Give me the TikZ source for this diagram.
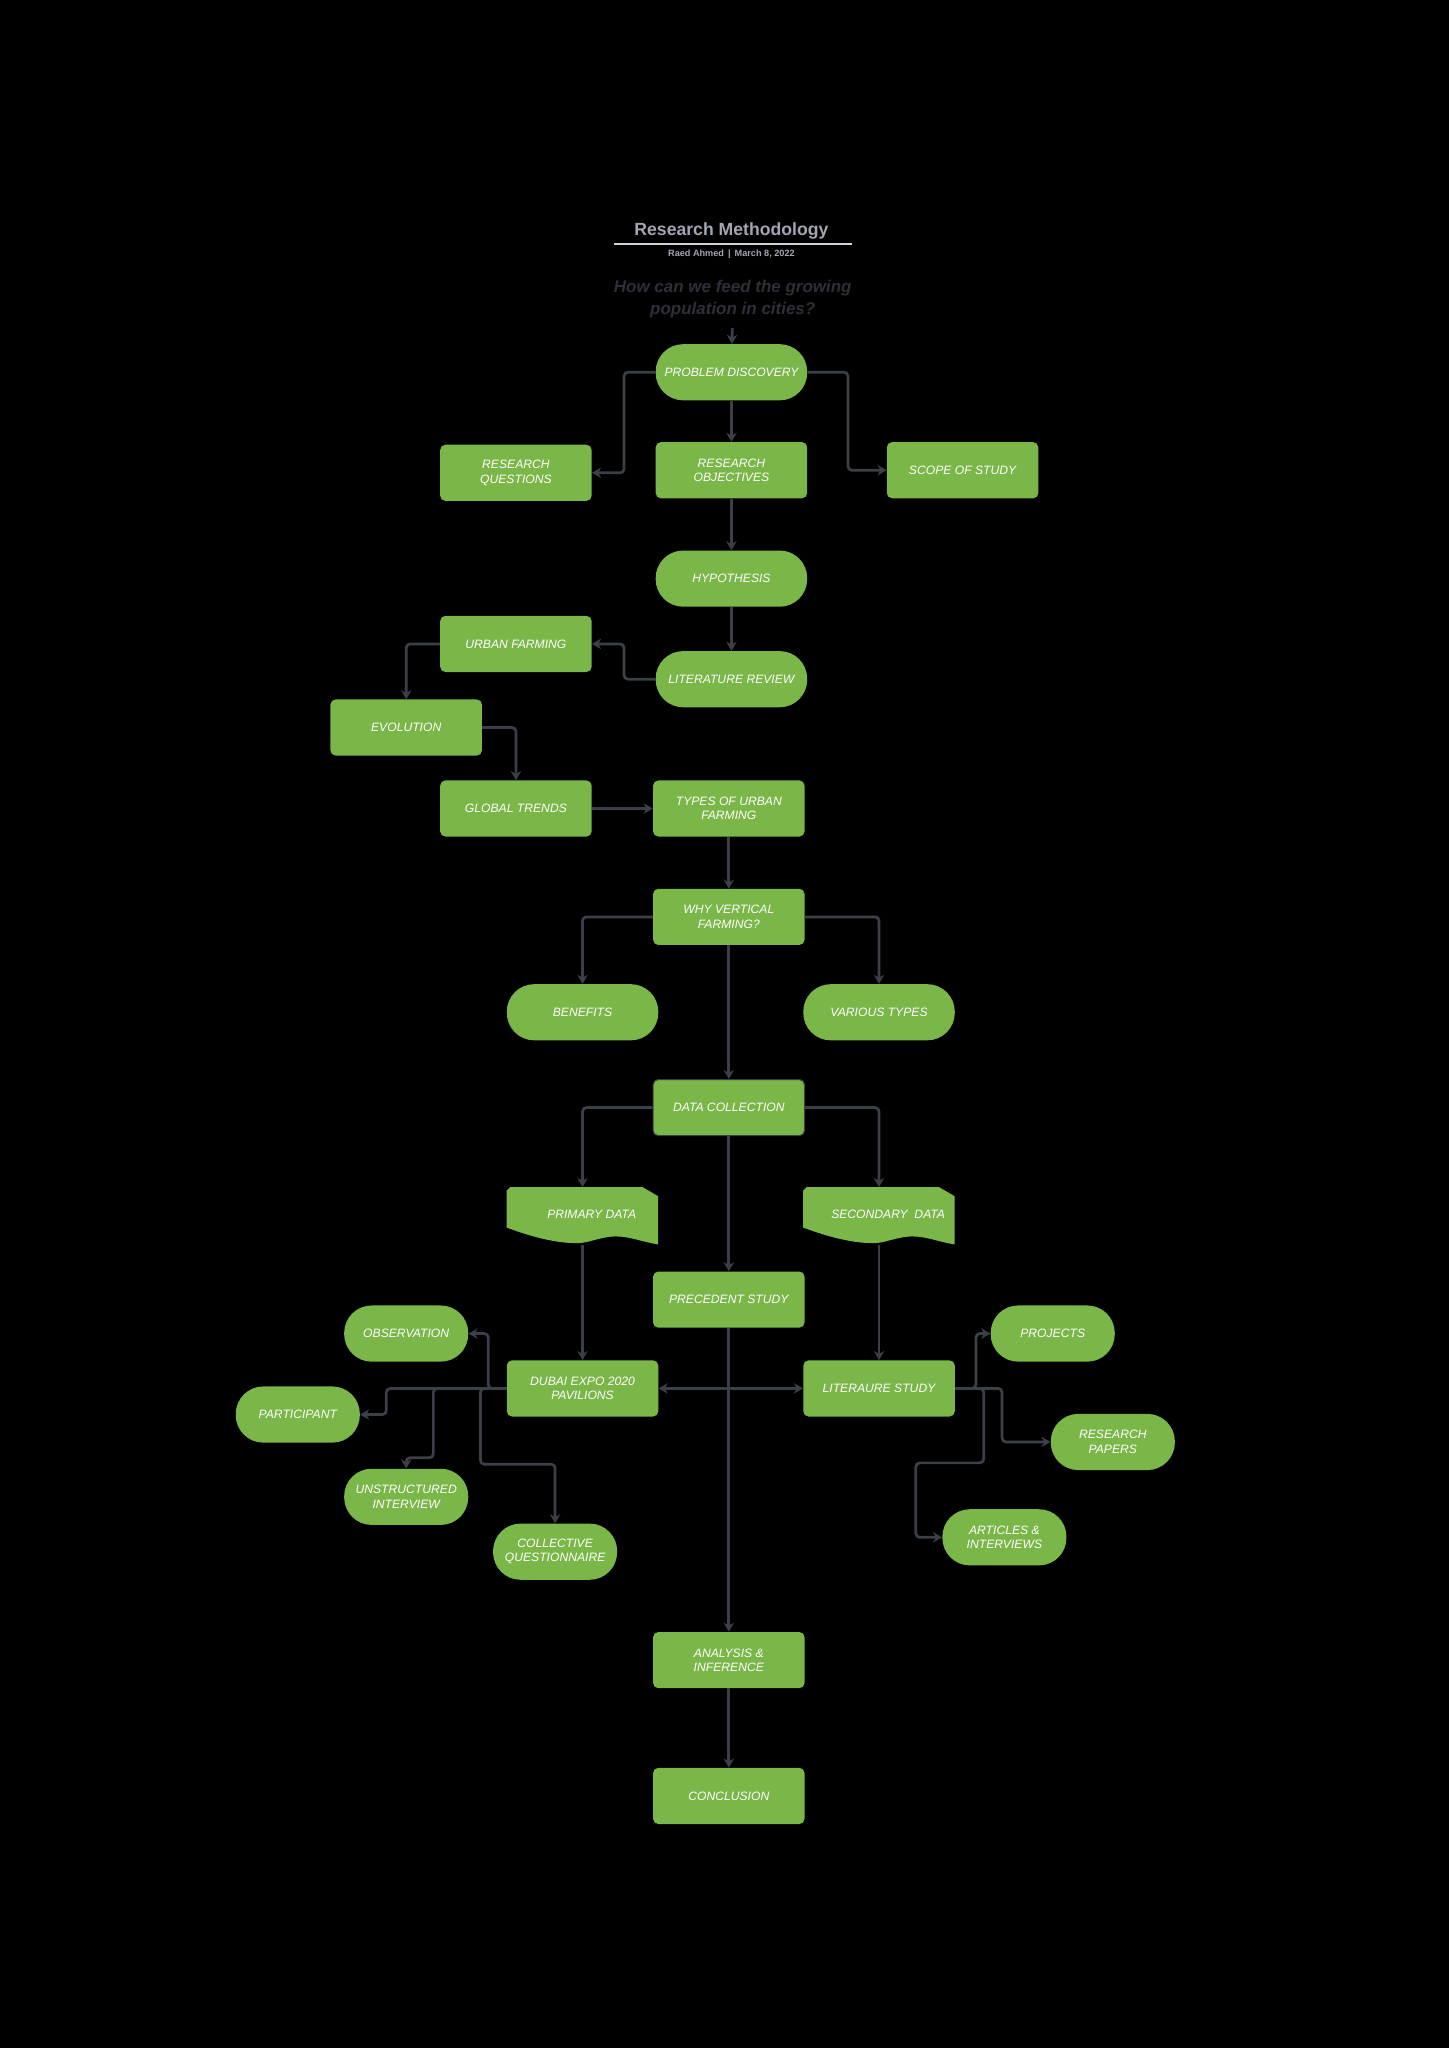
\documentclass[tikz,border=0pt]{standalone}
\usepackage{fontspec}
\setmainfont{Liberation Sans}
\usepackage{xcolor}
\usepackage{tikz}
\usetikzlibrary{positioning, arrows.meta, calc}

\definecolor{leafgreen}{HTML}{7AB648}
\definecolor{wiregray}{HTML}{3A3F48}
\definecolor{titlegray}{HTML}{A2A6B3}
\definecolor{askgray}{HTML}{2C3038}

\newcommand{\docnode}[3]{%
    \node (#1) at #2 [minimum width=116pt, minimum height=44pt, inner sep=0pt] {};
    \begin{scope}[shift={(#1.north west)}]
        % Body with folded top right corner and wavy bottom edge
        \fill[leafgreen] (0,31) -- (0,3) -- (3,0) -- (104,0) -- (116,7) -- (116,44)
            .. controls (100,41) and (92,37) .. (80,38)
            .. controls (70,39) and (62,43) .. (54,43)
            .. controls (36,43) and (16,37) .. (0,31) -- cycle;
    \end{scope}
    % Label sits a little right of the centre
    \node[label_style] at ($(#1.center)+(7,-1)$) {#3};
}

\begin{document}
\begin{tikzpicture}[
        x=1pt, y=-1pt,
        label_style/.style={text=white, align=center, inner sep=0pt,
            font=\itshape\fontsize{9.3}{11}\selectfont},
        box_style/.style={label_style, rectangle, rounded corners=4pt, fill=leafgreen,
            minimum width=116pt, minimum height=43pt},
        pill_style/.style={box_style, rounded corners=21pt},
        small_pill/.style={pill_style, minimum width=95pt},
        arrow_style/.style={-{Stealth[length=7pt, width=8pt]}, line width=2.1pt,
            draw=wiregray, rounded corners=3pt},
        twoway_style/.style={arrow_style, {Stealth[length=7pt, width=8pt]}-{Stealth[length=7pt, width=8pt]}}
    ]

    % =========================================================================
    % 0. PAGE AND HEADER
    % =========================================================================
    \fill[black] (0,0) rectangle (1109,1568);

    \node[text=titlegray, font=\bfseries\fontsize{13.5}{15}\selectfont] (title) at (560,177) {Research Methodology};
    \draw[titlegray!50!white, line width=1.8pt] (470,187) -- (652,187);
    \node[text=titlegray, font=\bfseries\fontsize{7}{8}\selectfont] (byline) at (560,195) {Raed Ahmed \,|\, March 8, 2022};
    \node[text=askgray, align=center, font=\bfseries\itshape\fontsize{13}{17}\selectfont] (question) at (561,229)
        {How can we feed the growing\\population in cities?};

    % =========================================================================
    % 1. NODE PLACEMENTS
    % =========================================================================

    % Problem stage
    \node[pill_style] (probdisc) at (560,285) {PROBLEM DISCOVERY};
    \node[box_style] (resquest) at (395,362) {RESEARCH\\QUESTIONS};
    \node[box_style] (resobj) at (560,360) {RESEARCH\\OBJECTIVES};
    \node[box_style] (scope) at (737,360) {SCOPE OF STUDY};
    \node[pill_style] (hypo) at (560,443) {HYPOTHESIS};

    % Literature stage
    \node[box_style] (urban) at (395,493) {URBAN FARMING};
    \node[pill_style] (litrev) at (560,520) {LITERATURE REVIEW};
    \node[box_style] (evolution) at (311,557) {EVOLUTION};
    \node[box_style] (globtrend) at (395,619) {GLOBAL TRENDS};
    \node[box_style] (urbtypes) at (558,619) {TYPES OF URBAN\\FARMING};
    \node[box_style] (whyvert) at (558,702) {WHY VERTICAL\\FARMING?};
    \node[pill_style] (benefits) at (446,775) {BENEFITS};
    \node[pill_style] (vartypes) at (673,775) {VARIOUS TYPES};

    % Data stage
    \node[box_style, draw=wiregray, line width=0.8pt] (datacoll) at (558,848) {DATA COLLECTION};
    \docnode{primary}{(446,931)}{PRIMARY DATA}
    \docnode{secondary}{(673,931)}{SECONDARY \ DATA}
    \node[box_style] (precedent) at (558,995) {PRECEDENT STUDY};
    \node[box_style] (dubai) at (446,1063) {DUBAI EXPO 2020\\PAVILIONS};
    \node[box_style] (litstudy) at (673,1063) {LITERAURE STUDY};

    % Primary data methods
    \node[small_pill] (observation) at (311,1021) {OBSERVATION};
    \node[small_pill] (participant) at (228,1083) {PARTICIPANT};
    \node[small_pill] (unstruct) at (311,1146) {UNSTRUCTURED\\INTERVIEW};
    \node[small_pill] (collect) at (425,1188) {COLLECTIVE\\QUESTIONNAIRE};

    % Secondary data sources
    \node[small_pill] (projects) at (806,1021) {PROJECTS};
    \node[small_pill] (respapers) at (852,1104) {RESEARCH\\PAPERS};
    \node[small_pill] (articles) at (769,1177) {ARTICLES \&\\INTERVIEWS};

    % Closing stage
    \node[box_style] (analysis) at (558,1271) {ANALYSIS \&\\INFERENCE};
    \node[box_style] (conclusion) at (558,1375) {CONCLUSION};

    % =========================================================================
    % 2. MAIN SPINE
    % =========================================================================
    \draw[arrow_style, shorten <=4pt] (question) -- (probdisc);
    \draw[arrow_style] (probdisc) -- (resobj);
    \draw[arrow_style] (resobj) -- (hypo);
    \draw[arrow_style] (hypo) -- (litrev);
    \draw[arrow_style] (urbtypes) -- (whyvert);
    \draw[arrow_style] (whyvert) -- (datacoll);
    \draw[arrow_style] (datacoll) -- (precedent);
    \draw[arrow_style] (precedent) -- (analysis);
    \draw[arrow_style] (analysis) -- (conclusion);

    % =========================================================================
    % 3. SIDE BRANCHES
    % =========================================================================
    \draw[arrow_style] (probdisc.west) -- ++(-24,0) |- (resquest.east);
    \draw[arrow_style] (probdisc.east) -- ++(31,0) |- (scope.west);

    \draw[arrow_style] (litrev.west) -- ++(-24,0) |- (urban.east);
    \draw[arrow_style] (urban.west) -| (evolution.north);
    \draw[arrow_style] (evolution.east) -| (globtrend.north);
    \draw[arrow_style] (globtrend) -- (urbtypes);

    \draw[arrow_style] (whyvert.west) -| (benefits.north);
    \draw[arrow_style] (whyvert.east) -| (vartypes.north);

    \draw[arrow_style] (datacoll.west) -| (primary.north);
    \draw[arrow_style] (datacoll.east) -| (secondary.north);
    \draw[arrow_style] (primary.south) -- (dubai.north);
    \draw[arrow_style] (secondary.south) -- (litstudy.north);
    \draw[twoway_style] (dubai) -- (litstudy);

    % =========================================================================
    % 4. METHOD FANS
    % =========================================================================

    % Dubai Expo fan
    \draw[arrow_style] (dubai.west) -- ++(-92,0) |- (participant.east);
    \draw[arrow_style] (dubai.west) -- ++(-14,0) |- (observation.east);
    \draw[arrow_style] (dubai.west) -- ++(-56,0) -- ++(0,53) -| (unstruct.north);
    \draw[arrow_style] (dubai.west) -- ++(-20,0) -- ++(0,58) -| (collect.north);

    % Literature study fan
    \draw[arrow_style] (litstudy.east) -- ++(16,0) |- (projects.west);
    \draw[arrow_style] (litstudy.east) -- ++(36,0) |- (respapers.west);
    \draw[arrow_style] (litstudy.east) -- ++(22,0) -- ++(0,57) -- ++(-52,0) |- (articles.west);

\end{tikzpicture}
\end{document}
